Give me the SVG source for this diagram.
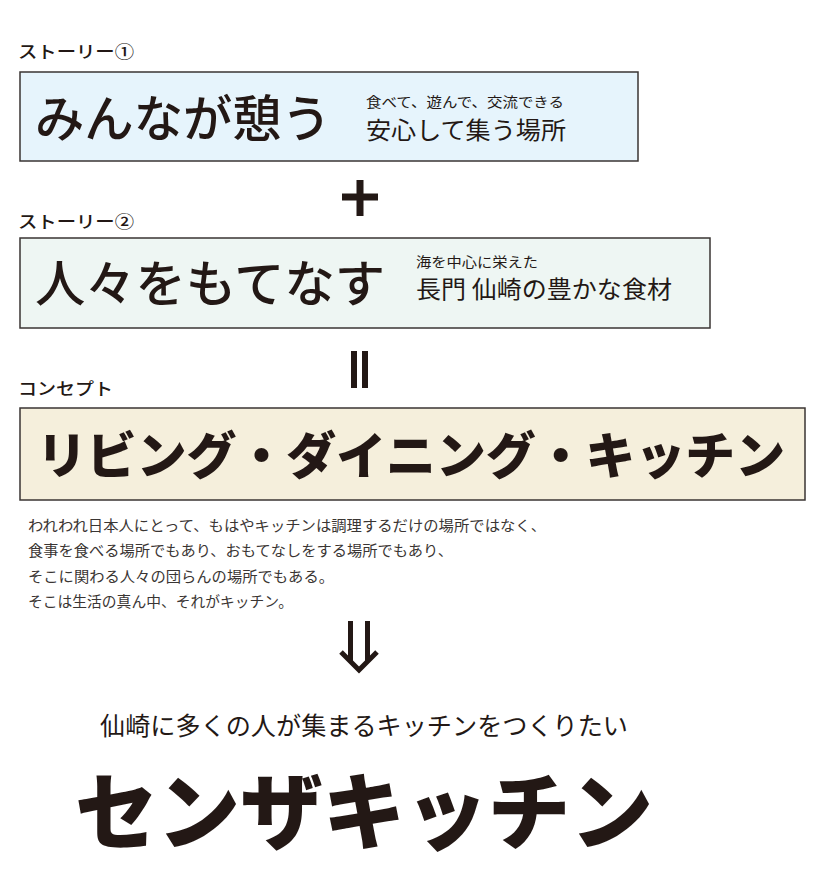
<svg xmlns="http://www.w3.org/2000/svg" width="820" height="879" viewBox="0 0 820 879">
<style>
text{font-family:"Noto Sans CJK JP","Noto Sans",sans-serif;fill:#231815}
.lbl{font-size:17px;font-weight:500}
.box{stroke:#3a3533;stroke-width:1.5}
.big{font-size:50px;font-weight:500}
.sm{font-size:14px}
.mid{font-size:24px}
.heavy{font-weight:900}
.para{font-size:14.5px;fill:#3a3533}
.sym{stroke:#231815;fill:none}
</style>
<rect width="820" height="879" fill="#ffffff"/>
<g id="story1">
<text class="lbl" x="18" y="58" textLength="116" lengthAdjust="spacingAndGlyphs">ストーリー①</text>
<rect class="box" x="20" y="72" width="618" height="89" fill="#e6f4fc"/>
<text class="big" x="35" y="137" textLength="296" lengthAdjust="spacingAndGlyphs">みんなが憩う</text>
<text class="sm" x="366" y="107" textLength="198" lengthAdjust="spacingAndGlyphs">食べて、遊んで、交流できる</text>
<text class="mid" x="366" y="139" textLength="200" lengthAdjust="spacingAndGlyphs">安心して集う場所</text>
</g>
<g id="connectors">
<path class="sym" d="M342 197H378M360 180V216" stroke-width="7"/>
<path class="sym" d="M354 351V388M365 351V388" stroke-width="6"/>
<path class="sym" d="M350.5 621V662M367.5 621V662" stroke-width="5"/>
<path class="sym" d="M341 652L359 670L377 652" stroke-width="5"/>
</g>
<g id="story2">
<text class="lbl" x="18" y="228" textLength="116" lengthAdjust="spacingAndGlyphs">ストーリー②</text>
<rect class="box" x="20" y="238" width="690" height="90" fill="#eef6f3"/>
<text class="big" x="35" y="302" textLength="350" lengthAdjust="spacingAndGlyphs">人々をもてなす</text>
<text class="sm" x="416" y="267" textLength="122" lengthAdjust="spacingAndGlyphs">海を中心に栄えた</text>
<text class="mid" x="416" y="298" textLength="256" lengthAdjust="spacingAndGlyphs">長門 仙崎の豊かな食材</text>
</g>
<g id="concept">
<text class="lbl" x="18" y="395" textLength="95" lengthAdjust="spacingAndGlyphs">コンセプト</text>
<rect class="box" x="20" y="408" width="785" height="92" fill="#f5efdc"/>
<text class="big heavy" x="37" y="474" textLength="748" lengthAdjust="spacingAndGlyphs">リビング・ダイニング・キッチン</text>
</g>
<g id="description">
<text class="para" x="28" y="531" textLength="518" lengthAdjust="spacingAndGlyphs">われわれ日本人にとって、もはやキッチンは調理するだけの場所ではなく、</text>
<text class="para" x="28" y="556" textLength="425" lengthAdjust="spacingAndGlyphs">食事を食べる場所でもあり、おもてなしをする場所でもあり、</text>
<text class="para" x="28" y="582" textLength="306" lengthAdjust="spacingAndGlyphs">そこに関わる人々の団らんの場所でもある。</text>
<text class="para" x="28" y="607" textLength="265" lengthAdjust="spacingAndGlyphs">そこは生活の真ん中、それがキッチン。</text>
</g>
<g id="goal">
<text x="100" y="735" font-size="25" textLength="528" lengthAdjust="spacingAndGlyphs">仙崎に多くの人が集まるキッチンをつくりたい</text>
<text class="heavy" x="75" y="843" font-size="84" textLength="578" lengthAdjust="spacingAndGlyphs">センザキッチン</text>
</g>
</svg>
